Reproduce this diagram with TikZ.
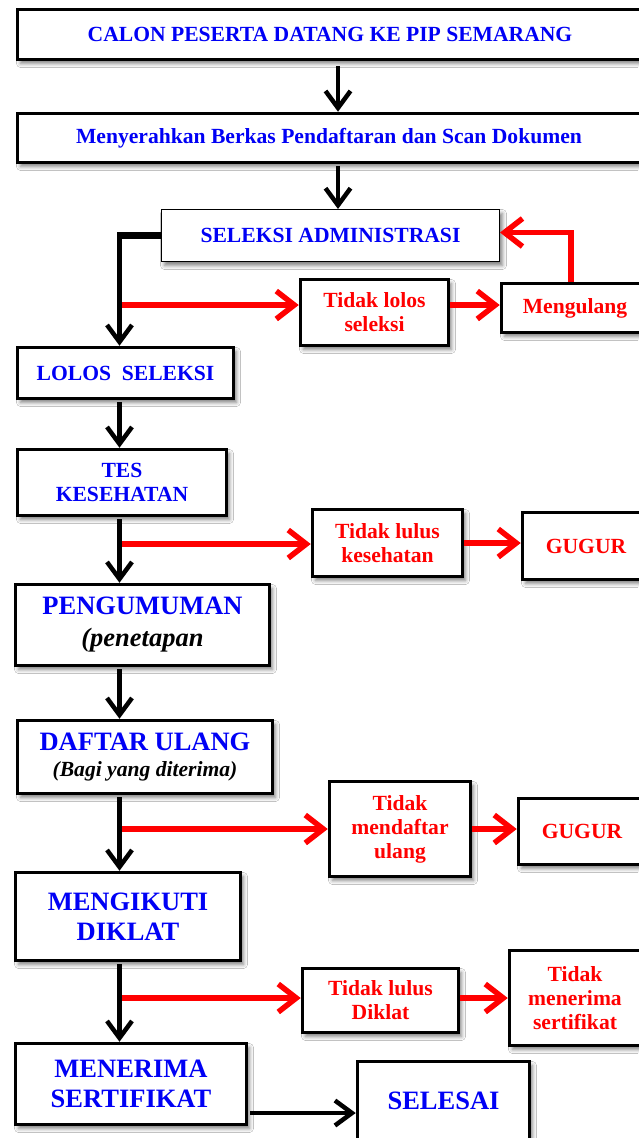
\documentclass[tikz,border=0pt]{standalone}
\usepackage{fontspec}
\setmainfont{Liberation Serif}
\usetikzlibrary{arrows.meta, shadows.blur}
\definecolor{stepblue}{RGB}{0,0,245}
\definecolor{stepred}{RGB}{255,0,0}
\tikzstyle{stepbox}=[draw, line width=3.5pt, fill=white, align=center, inner sep=0pt, text=stepblue, font=\bfseries\fontsize{21.6}{24}\selectfont, blur shadow={shadow xshift=3pt, shadow yshift=-4pt, shadow blur radius=4pt, shadow opacity=50}]
\tikzstyle{bigbox}=[stepbox, font=\bfseries\fontsize{26.5}{30}\selectfont]
\tikzstyle{failbox}=[stepbox, text=stepred]
\tikzstyle{flow}=[line width=4.5pt, shorten <=2pt, -{Straight Barb[length=17pt,width=25pt]}]
\tikzstyle{failflow}=[line width=5.5pt, draw=stepred, -{Straight Barb[length=18pt,width=28pt]}]
\newcommand{\stepnode}{\node[stepbox]}
\newcommand{\bignode}{\node[bigbox]}
\newcommand{\failnode}{\node[failbox]}

\begin{document}
\begin{tikzpicture}[x=1pt, y=-1pt]
\path[use as bounding box, fill=white] (0,0) rectangle (638,1138);

% main flow
    \stepnode[minimum width=625pt, minimum height=50pt] (calon) at (330,34.5) {CALON PESERTA DATANG KE PIP SEMARANG};
    \stepnode[minimum width=623pt, minimum height=49pt] (berkas) at (329,138) {Menyerahkan Berkas Pendaftaran dan Scan Dokumen};
    \stepnode[minimum width=338pt, minimum height=52pt, line width=1pt] (seleksi) at (330.5,235.5) {SELEKSI ADMINISTRASI};
    \stepnode[minimum width=216pt, minimum height=51pt] (lolos) at (125.5,373) {LOLOS\ \ SELEKSI};
    \stepnode[minimum width=209pt, minimum height=66pt] (tes) at (122,482.5) {TES\\KESEHATAN};
    \bignode[minimum width=254pt, minimum height=81pt] (pengumuman) at (142.5,625) {PENGUMUMAN\\[2pt]{\itshape\color{black}(penetapan}};
    \bignode[minimum width=255pt, minimum height=73pt] (daftar) at (145,757) {DAFTAR ULANG\\[-4pt]{\fontsize{21.6}{24}\selectfont\itshape\color{black}(Bagi yang diterima)}};
    \bignode[minimum width=225pt, minimum height=88pt] (mengikuti) at (128,916.5) {MENGIKUTI\\DIKLAT};
    \bignode[minimum width=231pt, minimum height=81pt] (menerima) at (131,1084) {MENERIMA\\SERTIFIKAT};
    \bignode[minimum width=172pt, minimum height=79pt] (selesai) at (443.5,1101) {SELESAI};

% side branches
    \failnode[minimum width=148pt, minimum height=66pt] (tidaklolos) at (374.5,312.5) {Tidak lolos\\seleksi};
    \failnode[minimum width=147pt, minimum height=49pt] (mengulang) at (575,308) {Mengulang};
    \failnode[minimum width=150pt, minimum height=67pt] (tidaklulus) at (387.5,543) {Tidak lulus\\kesehatan};
    \failnode[minimum width=127pt, minimum height=67pt] (gugurA) at (586,546) {GUGUR};
    \failnode[minimum width=141pt, minimum height=95pt] (tidakdaftar) at (400,829) {Tidak\\mendaftar\\ulang};
    \failnode[minimum width=127pt, minimum height=66pt] (gugurB) at (582,831.5) {GUGUR};
    \failnode[minimum width=156pt, minimum height=64pt] (tidakdiklat) at (380.5,1000.5) {Tidak lulus\\Diklat};
    \failnode[minimum width=131pt, minimum height=95pt] (tidakterima) at (575,998) {Tidak\\menerima\\sertifikat};

    \coordinate (mid) at (338,0);
    \coordinate (spine) at (119.5,0);
    \coordinate (forkA) at (121.5,305);
    \coordinate (forkB) at (121.5,544);
    \coordinate (forkC) at (121.5,829);
    \coordinate (forkD) at (121.5,998);
    \coordinate (finish) at (0,1113);

    \draw[failflow] (forkA) -- (forkA -| tidaklolos.west);
    \draw[failflow] (forkA -| tidaklolos.east) -- (forkA -| mengulang.west);
    \draw[failflow] ([xshift=-4pt]mengulang.north) |- ([yshift=3pt]seleksi.east);
    \draw[failflow] (forkB) -- (forkB -| tidaklulus.west);
    \draw[failflow] (tidaklulus.east) -- (tidaklulus.east -| gugurA.west);
    \draw[failflow] (forkC) -- (forkC -| tidakdaftar.west);
    \draw[failflow] (forkC -| tidakdaftar.east) -- (forkC -| gugurB.west);
    \draw[failflow] (forkD) -- (forkD -| tidakdiklat.west);
    \draw[failflow] (forkD -| tidakdiklat.east) -- (forkD -| tidakterima.west);

    \draw[flow, shorten <=5pt] (calon.south -| mid) -- (berkas.north -| mid);
    \draw[flow] (berkas.south -| mid) -- (seleksi.north -| mid);
    \draw[line width=7pt, shorten >=-2.25pt] (seleksi.west) -- (seleksi.west -| spine);
    \draw[flow, shorten <=0pt] (seleksi.west -| spine) -- (lolos.north -| spine);
    \draw[flow] (lolos.south -| spine) -- (tes.north -| spine);
    \draw[flow] (tes.south -| spine) -- (pengumuman.north -| spine);
    \draw[flow] (pengumuman.south -| spine) -- (daftar.north -| spine);
    \draw[flow] (daftar.south -| spine) -- (mengikuti.north -| spine);
    \draw[flow] (mengikuti.south -| spine) -- (menerima.north -| spine);
    \draw[flow] (menerima.east |- finish) -- (selesai.west |- finish);
\end{tikzpicture}
\end{document}
